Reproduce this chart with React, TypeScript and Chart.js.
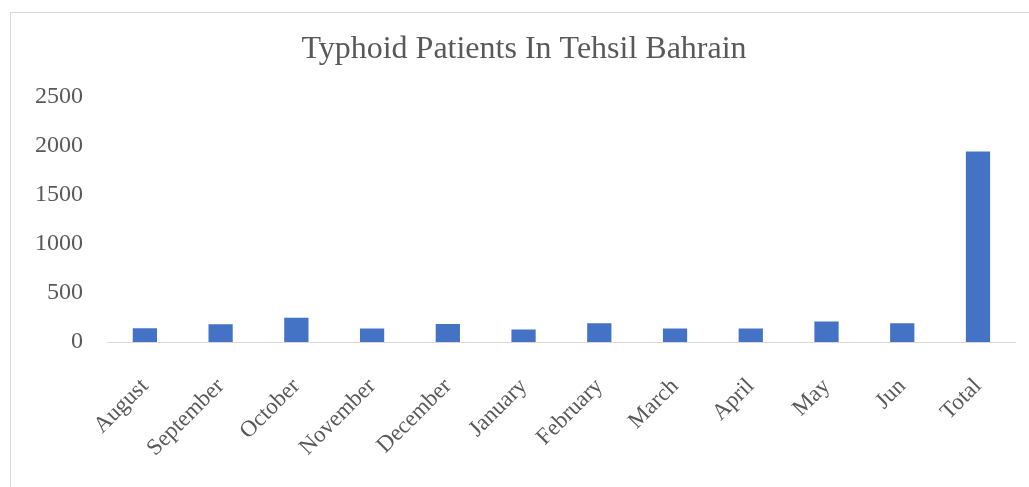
import React, { useEffect, useRef } from "react";
import { Chart, registerables } from "chart.js";

Chart.register(...registerables);

// Monthly typhoid patient counts, Tehsil Bahrain
const months = [
  "August", "September", "October", "November", "December", "January",
  "February", "March", "April", "May", "Jun", "Total",
];
const patients = [140, 180, 248, 138, 182, 128, 190, 138, 138, 208, 190, 1940];
const yTicks = [0, 500, 1000, 1500, 2000, 2500];

const TITLE = "Typhoid Patients In Tehsil Bahrain";
const SERIF = "'Liberation Serif', 'Times New Roman', serif";
const TEXT = "#595959";
const BAR = "#4472C4";

const CANVAS_W = 1018;
const CANVAS_H = 474;

export default function App() {
  const ref = useRef<HTMLCanvasElement | null>(null);

  useEffect(() => {
    if (!ref.current) return;
    const chart = new Chart(ref.current, {
      type: "bar",
      data: {
        labels: months,
        datasets: [
          {
            data: patients,
            backgroundColor: BAR,
            borderWidth: 0,
            categoryPercentage: 1,
            barPercentage: 0.32,
          },
        ],
      },
      options: {
        responsive: false,
        animation: false,
        layout: { padding: { left: 20, right: 12, top: 0, bottom: 0 } },
        plugins: {
          legend: { display: false },
          tooltip: { enabled: false },
          title: {
            display: true,
            text: TITLE,
            color: TEXT,
            font: { family: SERIF, size: 32, weight: "normal" },
            padding: { top: 17, bottom: 28 },
          },
        },
        scales: {
          x: {
            grid: { display: false, drawTicks: false },
            border: { display: true, color: "#d9d9d9", width: 1 },
            ticks: {
              color: TEXT,
              font: { family: SERIF, size: 23 },
              maxRotation: 45,
              minRotation: 45,
              padding: 31,
              autoSkip: false,
            },
            afterFit: (scale: any) => {
              scale.height = 145;
            },
          },
          y: {
            min: 0,
            max: 2500,
            grid: { display: false, drawTicks: false },
            border: { display: false },
            afterBuildTicks: (scale: any) => {
              scale.ticks = yTicks.map((v) => ({ value: v }));
            },
            ticks: {
              color: TEXT,
              font: { family: SERIF, size: 24 },
              padding: 24,
              callback: (v: any) => String(v),
            },
            afterFit: (scale: any) => {
              scale.width = 76;
            },
          },
        },
      },
    });
    return () => chart.destroy();
  }, []);

  return (
    <div
      style={{
        position: "absolute",
        left: 10,
        top: 12,
        width: 1030,
        height: 480,
        border: "1px solid #d9d9d9",
        boxSizing: "border-box",
        background: "#fff",
      }}
    >
      <canvas ref={ref} width={CANVAS_W} height={CANVAS_H} style={{ display: "block" }} />
    </div>
  );
}
